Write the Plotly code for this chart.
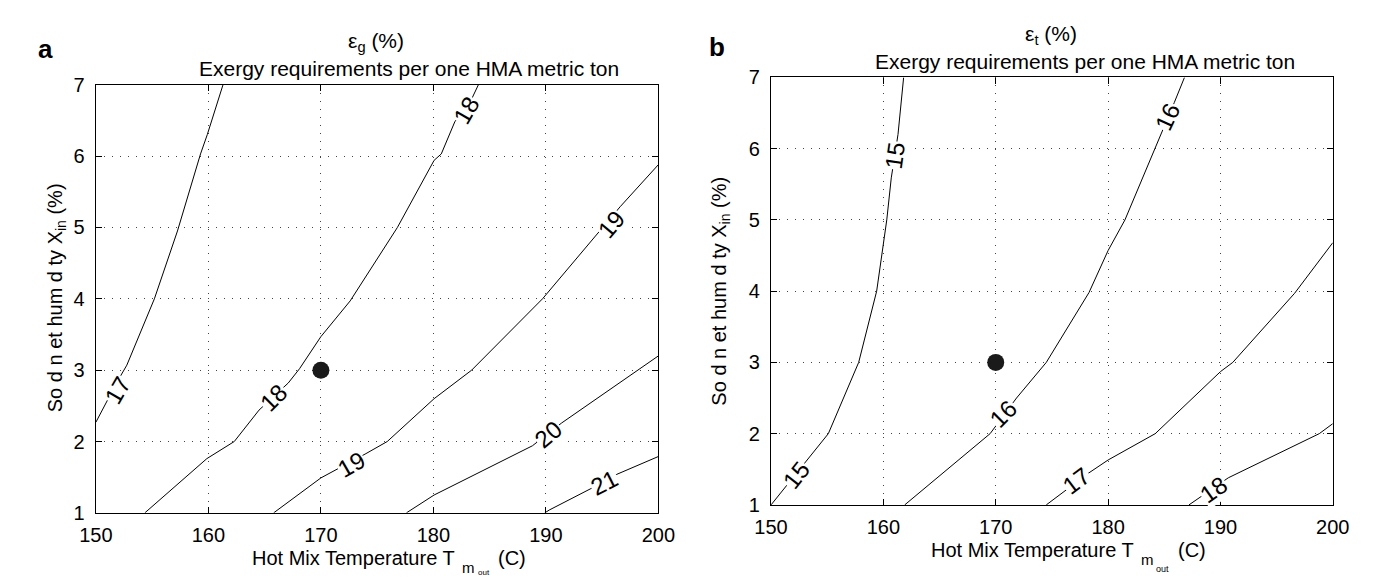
import plotly.graph_objects as go

# ---------------- data ----------------
# Panel a : epsilon_g contour lines  (x = hot mix temperature, y = solid inlet humidity)
a17_x = [150.0, 151.9, 152.75, 155.2, 157.25, 159.3, 159.9, 161.3]
a17_y = [2.27, 2.84, 3.07, 4.0, 4.95, 6.03, 6.3, 7.0]
a18_x = [154.35, 159.86, 162.3, 164.5, 167.1, 168.1, 170.0, 172.6, 176.8, 180.06, 180.7, 181.9, 183.4, 184.0]
a18_y = [1.0, 1.76, 2.0, 2.44, 2.82, 3.02, 3.47, 3.97, 5.0, 5.94, 6.03, 6.48, 6.8, 7.0]
a19_x = [165.8, 170.0, 174.0, 175.9, 180.06, 183.4, 189.7, 196.6, 200.0]
a19_y = [1.0, 1.49, 1.83, 2.0, 2.6, 3.0, 4.0, 5.29, 5.88]
a20_x = [177.6, 180.06, 188.8, 191.4, 200.0]
a20_y = [1.0, 1.25, 1.94, 2.26, 3.2]
a21_x = [189.9, 190.3, 194.0, 196.3, 200.0]
a21_y = [1.0, 1.04, 1.34, 1.54, 1.79]

# Panel b : epsilon_t contour lines
b15_x = [150.0, 153.3, 155.1, 157.8, 159.4, 160.3, 160.7, 161.3, 161.8]
b15_y = [1.0, 1.64, 2.0, 3.0, 4.0, 5.0, 5.59, 6.2, 7.0]
b16_x = [161.9, 169.5, 171.85, 174.5, 178.3, 180.0, 181.5, 184.2, 185.9, 186.8]
b16_y = [1.0, 2.0, 2.5, 3.0, 3.98, 4.57, 5.0, 6.0, 6.65, 7.0]
b17_x = [174.5, 178.3, 180.0, 184.2, 190.0, 191.1, 196.6, 200.0]
b17_y = [1.0, 1.45, 1.63, 2.0, 2.87, 3.0, 3.97, 4.68]
b18_x = [187.2, 190.7, 198.8, 200.0]
b18_y = [1.0, 1.38, 2.0, 2.14]

# contour label values and their locations (data units)
a_label_text = ["17", "18", "18", "19", "19", "20", "21"]
a_label_x = [151.9, 165.8, 182.9, 172.7, 195.8, 190.2, 195.2]
a_label_y = [2.72, 2.62, 6.64, 1.68, 5.04, 2.1, 1.42]
a_label_angle = [-60, -45, -60, -30, -50, -40, -27]

b_label_text = ["15", "15", "16", "16", "17", "18"]
b_label_x = [152.3, 161.05, 170.7, 185.3, 177.2, 189.4]
b_label_y = [1.42, 5.9, 2.28, 6.45, 1.34, 1.22]
b_label_angle = [-52, -82, -45, -65, -37, -35]

# operating point
op_x = [170]
op_y = [3]

x_ticks = [150, 160, 170, 180, 190, 200]
y_ticks = [1, 2, 3, 4, 5, 6, 7]

# ---------------- figure ----------------
W, H = 1373, 581
FONT = "Liberation Sans, Arial, sans-serif"


def px(x):
    return x / W


def py(y):
    return 1 - y / H


fig = go.Figure()

line_style = dict(color="black", width=1)

for xs, ys in [(a17_x, a17_y), (a18_x, a18_y), (a19_x, a19_y), (a20_x, a20_y), (a21_x, a21_y)]:
    fig.add_trace(go.Scatter(x=xs, y=ys, mode="lines", line=line_style,
                             xaxis="x", yaxis="y", showlegend=False, hoverinfo="skip"))
for xs, ys in [(b15_x, b15_y), (b16_x, b16_y), (b17_x, b17_y), (b18_x, b18_y)]:
    fig.add_trace(go.Scatter(x=xs, y=ys, mode="lines", line=line_style,
                             xaxis="x2", yaxis="y2", showlegend=False, hoverinfo="skip"))

fig.add_trace(go.Scatter(x=op_x, y=op_y, mode="markers",
                         marker=dict(color="#1a1a1a", size=17),
                         xaxis="x", yaxis="y", showlegend=False))
fig.add_trace(go.Scatter(x=op_x, y=op_y, mode="markers",
                         marker=dict(color="#1a1a1a", size=17),
                         xaxis="x2", yaxis="y2", showlegend=False))

annotations = []
for t, x, y, ang in zip(a_label_text, a_label_x, a_label_y, a_label_angle):
    annotations.append(dict(text=t, x=x, y=y, xref="x", yref="y", showarrow=False,
                            textangle=ang, bgcolor="white", borderpad=0,
                            font=dict(family=FONT, size=24, color="black")))
for t, x, y, ang in zip(b_label_text, b_label_x, b_label_y, b_label_angle):
    annotations.append(dict(text=t, x=x, y=y, xref="x2", yref="y2", showarrow=False,
                            textangle=ang, bgcolor="white", borderpad=0,
                            font=dict(family=FONT, size=24, color="black")))


def txt(text, x, y, size, xanchor="center", yanchor="middle", angle=0, bold=False):
    if bold:
        text = "<b>" + text + "</b>"
    annotations.append(dict(text=text, x=px(x), y=py(y), xref="paper", yref="paper",
                            showarrow=False, xanchor=xanchor, yanchor=yanchor,
                            textangle=angle,
                            font=dict(family=FONT, size=size, color="black")))


# panel letters
txt("a", 21.5, 31, 26, bold=True)
txt("b", 710, 29, 26, bold=True)

# titles
txt("ε<sub>g</sub> (%)", 360, 24, 21)
txt("Exergy requirements per one HMA metric ton", 394, 51, 21)
txt("ε<sub>t</sub> (%)", 1052, 17, 21)
txt("Exergy requirements per one HMA metric ton", 1087, 44, 21)

# x axis titles
txt("Hot Mix Temperature T", 443, 560, 20, xanchor="right")
txt("m", 455, 570, 15, xanchor="center")
txt("out", 462, 575, 8, xanchor="left")
txt("(C)", 483, 560, 20, xanchor="left")

txt("Hot Mix Temperature T", 1139, 552, 20, xanchor="right")
txt("m", 1151, 562, 15, xanchor="center")
txt("out", 1158, 572, 9, xanchor="left")
txt("(C)", 1180, 552, 20, xanchor="left")

# y axis titles
txt("So d n et hum d ty X<sub>in</sub> (%)", 32, 290, 20, angle=-90)
txt("So d n et hum d ty X<sub>in</sub> (%)", 713, 283, 20, angle=-90)

axis_common = dict(showline=True, linecolor="black", linewidth=1.3, mirror="ticks",
                   ticks="inside", ticklen=6, tickcolor="black", zeroline=False,
                   showgrid=True, gridcolor="#444", gridwidth=1, griddash="1px,7px",
                   tickfont=dict(family=FONT, size=20, color="black"))

fig.update_layout(
    width=W, height=H,
    margin=dict(l=0, r=0, t=0, b=0),
    paper_bgcolor="white", plot_bgcolor="white",
    showlegend=False,
    annotations=annotations,
    xaxis=dict(domain=[px(72.7), px(649.5)], range=[150, 200], tickvals=x_ticks,
               anchor="y", ticklabelstandoff=4, **axis_common),
    yaxis=dict(domain=[py(513.3), py(68.3)], range=[1, 7], tickvals=y_ticks,
               anchor="x", ticklabelstandoff=6, **axis_common),
    xaxis2=dict(domain=[px(765), px(1341)], range=[150, 200], tickvals=x_ticks,
                anchor="y2", ticklabelstandoff=4, **axis_common),
    yaxis2=dict(domain=[py(505), py(60.7)], range=[1, 7], tickvals=y_ticks,
                anchor="x2", ticklabelstandoff=6, **axis_common),
)

fig.write_html("out.html")
